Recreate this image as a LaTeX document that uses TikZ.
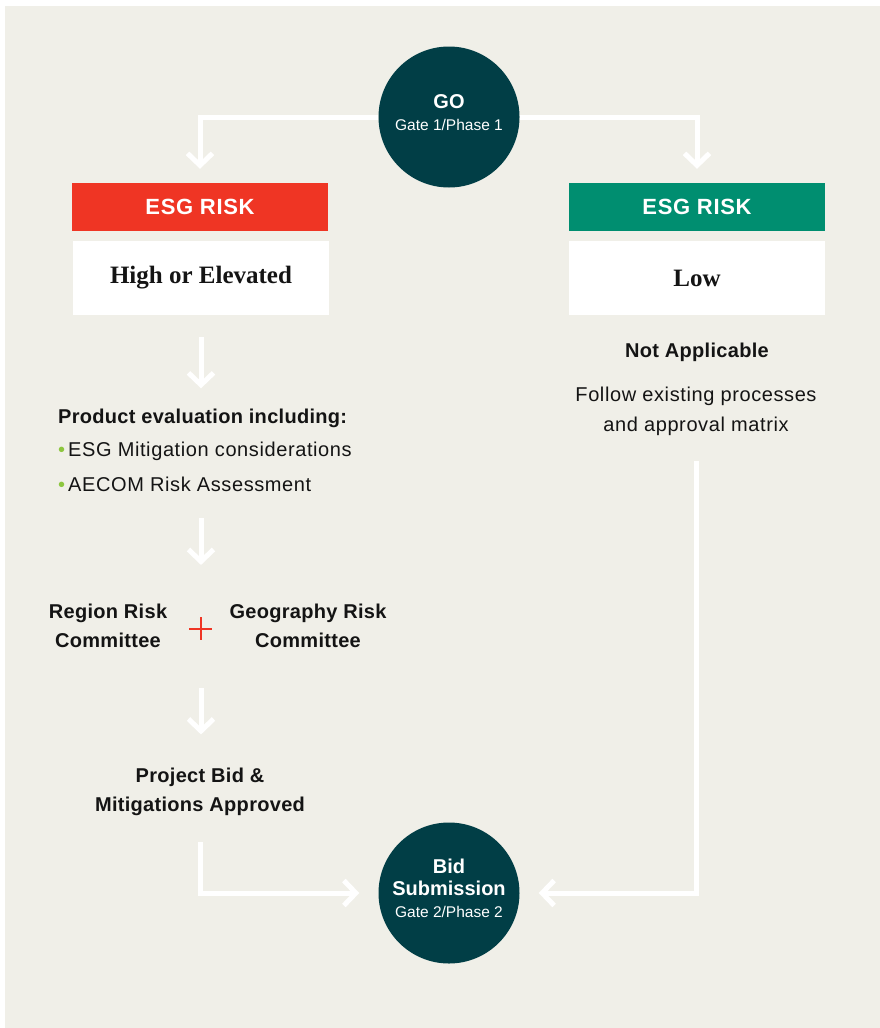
\documentclass[tikz,border=0pt]{standalone}
\usepackage{fontspec}
\setmainfont{Liberation Sans}
\newfontfamily\valueserif{Liberation Serif}
\usetikzlibrary{arrows.meta}
\definecolor{sand}{RGB}{240,239,232}
\definecolor{deepteal}{RGB}{1,62,70}
\definecolor{riskred}{RGB}{239,53,36}
\definecolor{riskgreen}{RGB}{0,142,112}
\definecolor{dotgreen}{RGB}{141,198,63}
\definecolor{inkblack}{RGB}{20,20,20}

\newcommand\gatehead[1]{{\bfseries\fontsize{20}{21.5}\selectfont #1}}
\newcommand\dotmark{{\color{dotgreen}\textbullet}\hspace{3pt}}

\tikzset{
  flow/.style={draw=white, line width=5pt, -{Straight Barb[length=12pt,width=25pt,sharp]}},
  gate/.style={circle, fill=deepteal, minimum size=141pt, inner sep=0pt, text=white, align=center,
    text depth=9pt, font=\fontsize{15.5}{22}\selectfont},
  riskhead/.style={minimum width=256pt, minimum height=48pt, inner sep=0pt, text=white,
    font=\bfseries\addfontfeature{LetterSpace=3}\fontsize{22}{24}\selectfont},
  riskval/.style={fill=white, minimum width=256pt, minimum height=74pt, inner sep=0pt, text=inkblack,
    font=\valueserif\bfseries\fontsize{25}{28}\selectfont},
  stepnote/.style={inner sep=0pt, align=center, text=inkblack,
    font=\bfseries\addfontfeature{LetterSpace=1.5}\fontsize{20}{29}\selectfont},
  plainnote/.style={inner sep=0pt, align=center, text=inkblack,
    font=\addfontfeature{LetterSpace=3}\fontsize{20}{30}\selectfont},
}

\begin{document}
\begin{tikzpicture}[x=1pt, y=-1pt]
  \useasboundingbox (0,0) rectangle (880,1028);
  \fill[sand] (5,6) rectangle (880,1028);

  % gates
  \node[gate] (go) at (449,117) {\gatehead{GO}\\Gate 1/Phase 1};
  \node[gate] (bid) at (449,893) {\gatehead{Bid}\\\gatehead{Submission}\\Gate 2/Phase 2};

  % risk levels
  \node[riskhead, fill=riskred] (hiHead) at (200,207) {ESG RISK};
  \node[riskval] (hiVal) at (201,278) {High or Elevated};
  \node[riskhead, fill=riskgreen] (loHead) at (697,207) {ESG RISK};
  \node[riskval] (loVal) at (697,278) {Low};

  % low branch
  \node[stepnote, anchor=base] (notApp) at (697,357) {Not Applicable};
  \node[plainnote] (follow) at (696,411) {Follow existing processes\\and approval matrix};

  % high branch
  \node[stepnote, anchor=base west] (prodEval) at (58,423) {Product evaluation including:};
  \node[plainnote, anchor=base west] (bulletA) at (58,456) {\dotmark ESG Mitigation considerations};
  \node[plainnote, anchor=base west] (bulletB) at (58,491) {\dotmark AECOM Risk Assessment};
  \node[stepnote] (regionRC) at (108,626) {Region Risk\\Committee};
  \node[stepnote] (geoRC) at (308,626) {Geography Risk\\Committee};
  \draw[riskred, line width=2pt] (189,628.5) -- (212,628.5) (200.5,617) -- (200.5,640);
  \node[stepnote] (approved) at (200,791.5) {Project Bid \&\\Mitigations Approved};

  % connectors
  \draw[flow, shorten >=14pt] (go.west) -| (hiHead.north);
  \draw[flow, shorten >=14pt] (go.east) -| (loHead.north);
  \draw[flow, shorten <=22pt, shorten >=20pt] (hiVal.south) -- (hiVal.south |- prodEval.north);
  \draw[flow, shorten <=27pt, shorten >=39pt] (hiVal.south |- bulletB.south) -- (hiVal.south |- regionRC.north);
  \draw[flow, shorten <=40pt, shorten >=33pt] (hiVal.south |- regionRC.south) -- (hiVal.south |- approved.north);
  \draw[flow, shorten <=26pt, shorten >=19pt] (approved.south) |- (bid.west);
  \draw[flow, shorten <=25pt, shorten >=19pt] (follow.south) |- (bid.east);
\end{tikzpicture}
\end{document}
